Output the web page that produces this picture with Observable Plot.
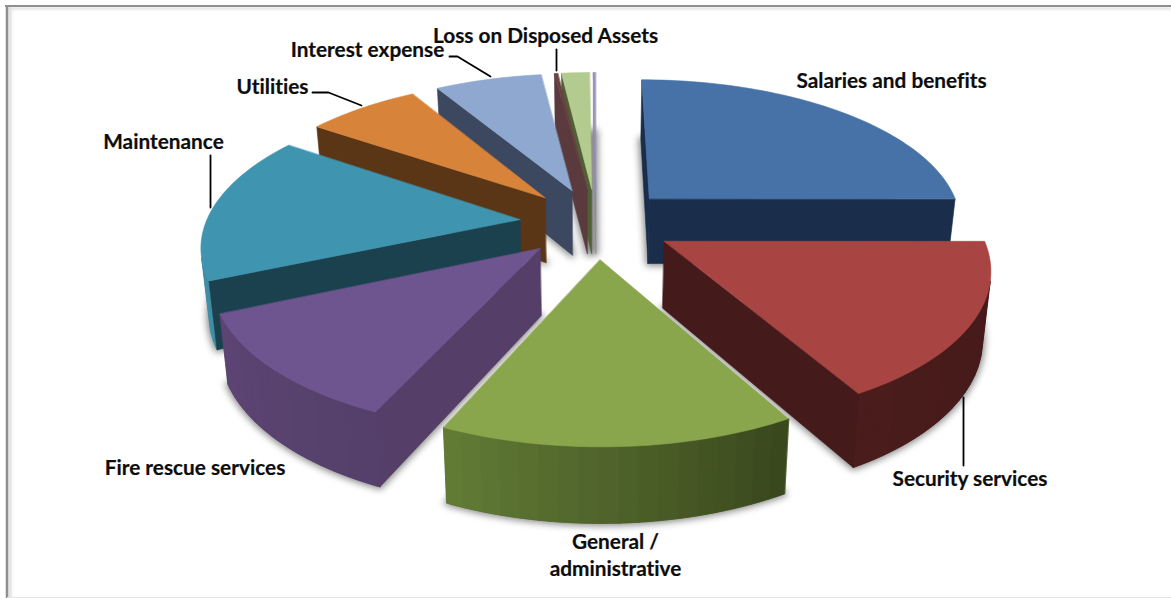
<!DOCTYPE html>
<html>
<head>
<meta charset="utf-8">
<script src="https://cdn.jsdelivr.net/npm/d3@7"></script>
<script src="https://cdn.jsdelivr.net/npm/@observablehq/plot@0.6"></script>
<style>
html,body{margin:0;padding:0;background:#fff;overflow:hidden}
svg{display:block}
svg text{font-variant-ligatures:none}
</style>
</head>
<body>
<div id="chart"></div>
<script>
// Data: share of expenses (percent)
const categories = ["Salaries and benefits","Security services","General / administrative","Fire rescue services","Maintenance","Utilities","Interest expense","Loss on Disposed Assets","Other","Minor"];
const shares = [25.0,16.8,14.9,11.7,16.1,6.9,6.5,0.2,1.7,0.14];

// Styles
const topColors  = ["#4672a8","#a84442","#8aa64c","#6f5590","#3f95b0","#d8833a","#8fa8d0","#6a4043","#b4cb8f","#9a92b8"];
const wallColors = ["#1a2e4b","#451a1a","#39461d","#553f68","#1b414e","#5a3616","#3b4860","#5a3a3c","#4f6035","#8a8aa8"];
const rimStart   = ["#1a2e4b","#451a1a","#39461d","#54406a","#3f8ea6","#5a3616","#3b4860","#5a3a3c","#4f6035","#8a8aa8"];
const rimEnd     = ["#1a2e4b","#4a1c1c","#627c36","#5d4474","#3f8ea6","#5a3616","#3b4860","#5a3a3c","#4f6035","#8a8aa8"];

// Labels and leader lines (layout, chart pixels)
const labels = [
  {text:"Salaries and benefits", x:891, y:79},
  {text:"Security services", x:969.5, y:477},
  {text:"General /\nadministrative", x:615, y:553},
  {text:"Fire rescue services", x:194.5, y:466},
  {text:"Maintenance", x:163, y:140},
  {text:"Utilities", x:272, y:85},
  {text:"Interest expense", x:367, y:48},
  {text:"Loss on Disposed Assets", x:545, y:34}
];
const leaders = [
  {id:"security", x:[963,963], y:[397,465]},
  {id:"maintenance", x:[210,210], y:[155,207]},
  {id:"utilities", x:[312,328,361], y:[92,92,105]},
  {id:"interest", x:[449,457,490], y:[56,56,76]},
  {id:"loss", x:[556,556], y:[49,70]}
];

// Perspective model of the exploded pie
const view = {cx:593, cy:219, horizon:-695, width:313, k:0.157, explode:0.245, x0:0.009, v0:0.024};
const project = (X, V) => {
  const d = 1 - view.k * V;
  return [view.cx + view.width * X / d, view.horizon + (view.cy - view.horizon) / d];
};
const drop = ([x, y]) => [x - (x - view.cx) * 0.021, y + 55.7 + 0.0467 * y];
const cross = (a, b) => { // edge a->b against the extrusion of a
  const e = drop(a);
  return (b[0]-a[0])*(e[1]-a[1]) - (b[1]-a[1])*(e[0]-a[0]);
};
const blur = r => (index, scales, values, dims, ctx, next) => {
  const g = next(index, scales, values, dims, ctx);
  g.style.filter = `blur(${r}px)`;
  return g;
};

const total = d3.sum(shares);
let cum = 0;
const slices = shares.map((s, i) => {
  const t0 = cum / total * 2 * Math.PI; cum += s;
  const t1 = cum / total * 2 * Math.PI;
  const m = (t0 + t1) / 2;
  const ax = view.x0 + view.explode * Math.sin(m), av = view.v0 - view.explode * Math.cos(m);
  const apex = project(ax, av);
  const n = Math.max(2, Math.ceil((t1 - t0) / (1.5 * Math.PI / 180)));
  const rim = d3.range(n + 1).map(j => {
    const t = t0 + (t1 - t0) * j / n;
    return project(ax + Math.sin(t), av - Math.cos(t));
  });
  return {i, apex, rim, av};
});
const order = d3.sort(slices, d => d.av);

const faces = [], shadows = [];
const addFace = (arr, id, color, pts) => pts.forEach(p => arr.push({id, color, x:p[0], y:p[1]}));
const BAND = 2; // rim segments per shaded band
for (const s of order) {
  const {i, apex, rim} = s;
  addFace(shadows, "s"+i, "#8a8a8a", [drop(apex), ...rim.map(drop)]);
  const first = rim[0], last = rim[rim.length-1];
  const ramp = d3.interpolateRgb(rimStart[i], rimEnd[i]);
  // visible rim segments as runs, with an underlay so bands never show a seam
  const vis = d3.range(rim.length - 1).filter(j => cross(rim[j], rim[j+1]) < 0);
  if (vis.length) {
    const ring = [...vis.map(j => rim[j]), rim[vis[vis.length-1]+1]];
    addFace(faces, `u${i}`, d3.color(ramp(0.5)).formatHex(), [...ring, ...ring.slice().reverse().map(drop)]);
    for (let b = 0; b < vis.length; b += BAND) {
      const run = vis.slice(b, b + BAND);
      const pts = [...run.map(j => rim[j]), rim[run[run.length-1]+1]];
      const c = d3.color(ramp((run[0] + run.length / 2) / (rim.length - 1))).formatHex();
      addFace(faces, `r${i}-${b}`, c, [...pts, ...pts.slice().reverse().map(drop)]);
    }
  }
  if (cross(apex, first) < 0) addFace(faces, `w${i}a`, wallColors[i], [apex, first, drop(first), drop(apex)]);
  if (cross(apex, last) > 0) addFace(faces, `w${i}b`, wallColors[i], [apex, last, drop(last), drop(apex)]);
  addFace(faces, `t${i}`, topColors[i], [apex, ...rim]);
}
const leaderPts = leaders.flatMap(l => l.x.map((x, j) => ({id:l.id, x, y:l.y[j]})));

const chart = Plot.plot({
  width:1171, height:598, margin:0,
  x:{domain:[0,1171], range:[0,1171], axis:null},
  y:{domain:[0,598], range:[0,598], axis:null},
  color:{type:"identity"},
  marks:[
    Plot.ruleY([8],{x1:8,x2:1171,stroke:"#dcdcdc",strokeWidth:2,render:blur(1)}),
    Plot.ruleX([9.5],{y1:7,y2:598,stroke:"#dcdcdc",strokeWidth:3,render:blur(1)}),
    Plot.ruleY([5.5],{x1:5,x2:1171,stroke:"#8f8f8f",strokeWidth:2}),
    Plot.ruleX([6.5],{y1:5,y2:598,stroke:"#8f8f8f",strokeWidth:2.5}),
    Plot.ruleY([597],{x1:7,x2:1171,stroke:"#e6e6e6",strokeWidth:1}),
    Plot.line(shadows,{x:"x",y:"y",z:"id",fill:"color",stroke:"color",strokeWidth:5,strokeLinejoin:"round",curve:"linear-closed",render:blur(3.5)}),
    Plot.line(faces,{x:"x",y:"y",z:"id",fill:"color",stroke:"color",strokeWidth:0.6,strokeLinejoin:"round",curve:"linear-closed"}),
    Plot.line(leaderPts,{x:"x",y:"y",z:"id",stroke:"#000",strokeWidth:1.8}),
    Plot.text(labels,{x:"x",y:"y",text:"text",fontFamily:"Lato",fontWeight:700,fontSize:20.8,lineHeight:1.3,fill:"#0d0d0d",stroke:"#0d0d0d",strokeWidth:0.2})
  ]
});
document.getElementById("chart").append(chart);
</script>
</body>
</html>
